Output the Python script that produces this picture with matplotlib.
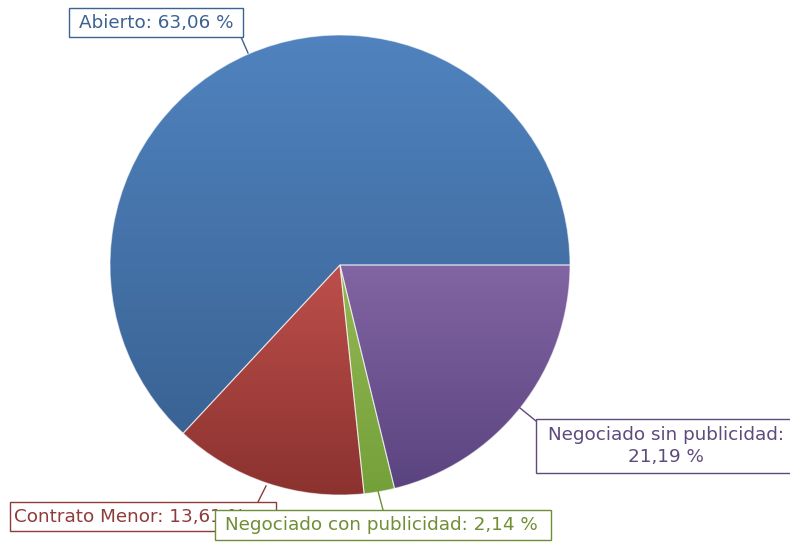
import matplotlib.pyplot as plt
import numpy as np
from matplotlib.colors import to_rgb
from matplotlib.patches import Rectangle

# data
categories = ["Abierto", "Contrato Menor", "Negociado con publicidad", "Negociado sin publicidad"]
shares = [63.06, 13.61, 2.14, 21.19]
label_texts = [
    "Abierto: 63,06 %",
    "Contrato Menor: 13,61 %",
    "Negociado con publicidad: 2,14 %",
    "Negociado sin publicidad:\n21,19 %",
]

# light top / dark bottom per slice (Excel-style gradient)
grad_colors = [
    ("#5083BF", "#3A6394"),
    ("#BD4F4B", "#8B322F"),
    ("#94B853", "#74A03A"),
    ("#8265A3", "#5A4480"),
]
text_colors = ["#3B6290", "#8E3B3B", "#6F8E35", "#5E4A7C"]

W, H = 790, 542
cx, cy, r = 340, H - 265, 230

fig = plt.figure(figsize=(W / 100, H / 100), dpi=100)
ax = fig.add_axes([0, 0, 1, 1])

wedges, _ = ax.pie(shares, startangle=0, counterclock=True, radius=r,
                   center=(cx, cy), frame=True,
                   wedgeprops=dict(linewidth=0))

for w, (c_top, c_bot) in zip(wedges, grad_colors):
    ext = w.get_path().get_extents()
    t = np.linspace(0, 1, 256)[:, None]
    top, bot = np.array(to_rgb(c_top)), np.array(to_rgb(c_bot))
    img = (top * (1 - t) + bot * t)[:, None, :]
    im = ax.imshow(img, extent=(ext.x0, ext.x1, ext.y0, ext.y1),
                   origin="upper", aspect="auto", zorder=2, interpolation="bilinear")
    im.set_clip_path(w)
    w.set_facecolor("none")
    w.set_edgecolor((1, 1, 1, 0.55))
    w.set_linewidth(0.8)
    w.set_zorder(3)

# label boxes in pixel coords (x0, y_top, x1, y_bottom)
boxes = [
    (69, 8, 243, 37),
    (10, 502, 276, 531),
    (215, 510, 551, 540),
    (536, 419, 800, 473),
]
text_pos = [
    (156, 22.5, "center"),
    (14, 517, "left"),
    (381, 525, "center"),
    (666, 446, "center"),
]
leaders = [
    ((241, 37), (248, 53)),
    ((258, 502), (266, 486)),
    ((383, 510), (378, 491)),
    ((536, 421), (520, 408)),
]

for i in range(len(categories)):
    x0, yt, x1, yb = boxes[i]
    z = 5 + i
    (lx0, ly0), (lx1, ly1) = leaders[i]
    ax.plot([lx0, lx1], [H - ly0, H - ly1], color=text_colors[i], lw=1, zorder=4)
    ax.add_patch(Rectangle((x0, H - yb), x1 - x0, yb - yt, facecolor="white",
                           edgecolor=text_colors[i], lw=1, zorder=z))
    tx, ty, ha = text_pos[i]
    ax.text(tx, H - ty, label_texts[i], color=text_colors[i], fontsize=13.2,
            ha=ha, va="center", linespacing=1.25, zorder=z + 0.5,
            family="DejaVu Sans")

ax.set_xlim(0, W)
ax.set_ylim(0, H)
ax.set_aspect("auto")
ax.axis("off")

fig.savefig("out.png", dpi=100)
